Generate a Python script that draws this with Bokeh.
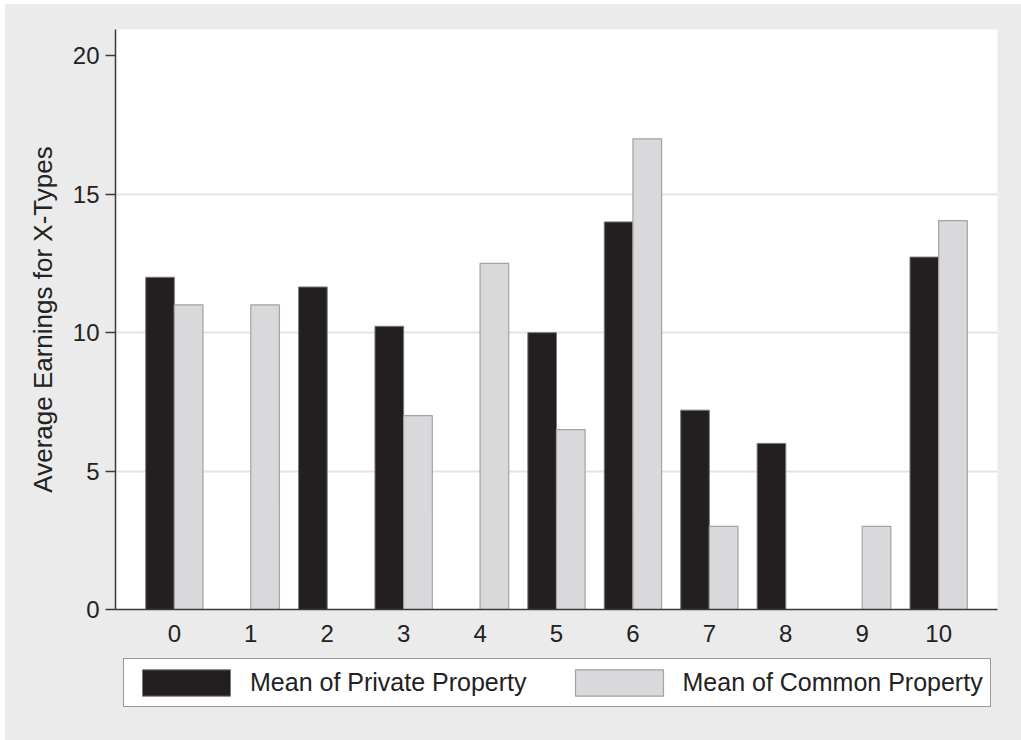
from bokeh.plotting import figure
from bokeh.models import ColumnDataSource, FixedTicker, Range1d, Legend, LegendItem
from bokeh.layouts import column
from bokeh.transform import dodge
from bokeh.embed import file_html
from bokeh.resources import INLINE

categories = [0, 1, 2, 3, 4, 5, 6, 7, 8, 9, 10]
private_property = [12.0, 0.0, 11.65, 10.23, 0.0, 10.0, 14.0, 7.2, 6.0, 0.0, 12.73]
common_property = [11.0, 11.0, 0.0, 7.0, 12.5, 6.5, 17.0, 3.0, 0.0, 3.0, 14.05]
y_ticks = [0, 5, 10, 15, 20]
grid_ticks = [5, 10, 15]
series_names = ["Mean of Private Property", "Mean of Common Property"]

src = ColumnDataSource(dict(cat=categories, priv=private_property, comm=common_property))

FONT = "Liberation Sans"
BAR_W = 0.375
BG = "#ebebeb"
DARK = dict(fill_color="#231f20", line_color="#7a7a7a", line_width=1)
LIGHT = dict(fill_color="#d9d9db", line_color="#a3a3a3", line_width=1.2)

p = figure(width=1016, height=650, output_backend="svg", toolbar_location=None,
           x_range=Range1d(-0.77, 10.77), y_range=Range1d(0, 20.95),
           min_border_left=110, min_border_right=24, min_border_top=25, min_border_bottom=45)
p.background_fill_color = "white"
p.border_fill_color = BG
p.outline_line_color = None

r1 = p.vbar(x=dodge("cat", -BAR_W / 2, range=p.x_range), top="priv", width=BAR_W, bottom=0,
            source=src, **DARK)
r2 = p.vbar(x=dodge("cat", BAR_W / 2, range=p.x_range), top="comm", width=BAR_W, bottom=0,
            source=src, **LIGHT)

# axes
p.xaxis.ticker = FixedTicker(ticks=categories)
p.yaxis.ticker = FixedTicker(ticks=y_ticks)
p.xgrid.visible = False
p.ygrid.ticker = FixedTicker(ticks=grid_ticks)
p.ygrid.grid_line_color = "#e4e4e4"
p.ygrid.grid_line_width = 2

for ax in (p.xaxis, p.yaxis):
    ax.axis_line_color = "#3a3a3a"
    ax.axis_line_width = 1.5
    ax.major_tick_line_color = "#3a3a3a"
    ax.major_tick_line_width = 1.5
    ax.minor_tick_line_color = None
    ax.major_label_text_font = FONT
    ax.major_label_text_font_size = "24px"
    ax.major_label_text_color = "#222222"

p.xaxis.major_tick_out = 0
p.xaxis.major_tick_in = 0
p.xaxis.major_label_standoff = 15
p.yaxis.major_tick_out = 10
p.yaxis.major_tick_in = 0
p.yaxis.major_label_standoff = 6
p.yaxis.axis_label = "Average Earnings for X-Types"
p.yaxis.axis_label_text_font = FONT
p.yaxis.axis_label_text_font_size = "26px"
p.yaxis.axis_label_text_font_style = "normal"
p.yaxis.axis_label_text_color = "#222222"
p.yaxis.axis_label_standoff = 12

# legend strip below the chart (its frame lines up with the chart's frame)
lg = figure(width=1016, height=86, output_backend="svg", toolbar_location=None,
            x_range=Range1d(-0.77, 10.77), y_range=Range1d(0, 20.95),
            x_axis_location=None, y_axis_location=None,
            min_border_left=110, min_border_right=24, min_border_top=0, min_border_bottom=0)
lg.grid.visible = False
lg.background_fill_color = BG
lg.border_fill_color = BG
lg.outline_line_color = None
k1 = lg.vbar(x="cat", top="priv", width=BAR_W, source=src, **DARK)
k2 = lg.vbar(x="cat", top="comm", width=BAR_W, source=src, **LIGHT)
k1.visible = False
k2.visible = False

legend = Legend(items=[LegendItem(label=series_names[0], renderers=[k1]),
                       LegendItem(label=series_names[1], renderers=[k2])],
                orientation="horizontal", location=(8, 33))
legend.label_text_font = FONT
legend.label_text_font_size = "25px"
legend.label_text_color = "#222222"
legend.glyph_width = 110
legend.glyph_height = 33
legend.label_standoff = 9
legend.spacing = 37
legend.padding = 7
legend.margin = 0
legend.border_line_color = "#333333"
legend.border_line_width = 1.5
legend.background_fill_color = "white"
legend.background_fill_alpha = 1
legend.click_policy = "none"
lg.add_layout(legend, "center")

layout = column(p, lg, spacing=0)
layout.margin = (4, 0, 0, 5)
layout.styles = {"background-color": BG}

open("out.html", "w").write(file_html(layout, INLINE))
